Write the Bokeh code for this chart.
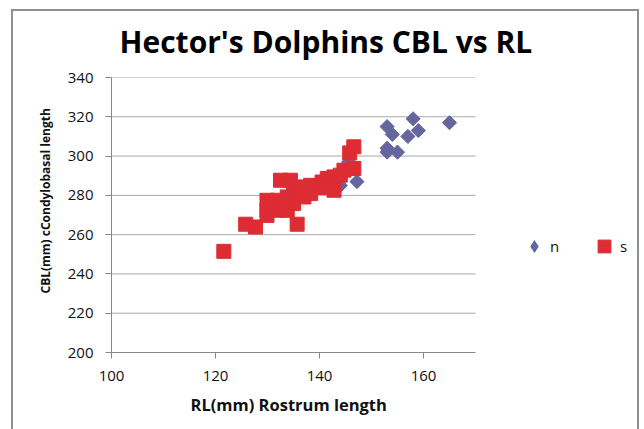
from bokeh.plotting import figure
from bokeh.models import Range1d, Legend, LegendItem, Title, FixedTicker, ColumnDataSource
from bokeh.embed import file_html
from bokeh.resources import INLINE
import numpy as np

# Hector's dolphin skull measurements (mm): rostrum length vs condylobasal length
n_rl = [158, 153, 154, 157, 159, 165, 153, 153, 155, 147.2, 145.6, 144]
n_cbl = [319, 315, 311, 310, 313, 317, 304, 302, 302, 287, 297, 285]

s_rl = [121.6, 125.8, 127.7, 135.7, 129.9, 129.9, 131.9, 133.8, 135.0, 129.9,
        131.9, 133.8, 137.0, 138.3, 135.0, 132.5, 134.4, 136.3, 138.3, 139.6,
        140.5, 141.5, 142.8, 142.8, 144.0, 144.7, 146.6, 145.8, 146.6, 131.0,
        133.0, 137.5, 141.0, 130.5]
s_cbl = [251.5, 265.3, 263.9, 265.3, 269.8, 272.4, 272.4, 272.4, 275.8, 277.5,
         277.5, 279.2, 279.2, 280.9, 282.6, 287.7, 287.7, 284.3, 285.1, 284.3,
         286.8, 288.6, 289.4, 282.6, 290.3, 292.8, 293.7, 301.6, 304.7, 275.0,
         276.0, 283.0, 284.0, 274.0]

x_ticks = [100, 120, 140, 160]
y_ticks = [200, 220, 240, 260, 280, 300, 320, 340]
x_min, x_max = 100, 170
y_min, y_max = 200, 340

BLUE = "#65669f"
RED = "#de2c34"
FONT = "Open Sans"
EDGE = "#8f8f8f"
TEXT = "#111111"

# the frame runs on to the right edge so the legend can sit beside the data area;
# axis line and grid stop at x_max
p = figure(width=644, height=429, output_backend="svg", toolbar_location=None,
           x_range=Range1d(x_min, 202.5), y_range=Range1d(y_min, y_max),
           min_border_left=111, min_border_right=0,
           min_border_top=77, min_border_bottom=77)
p.outline_line_color = None
p.background_fill_color = None
p.border_fill_color = None

# thin grey frame around the whole chart area, painted behind the canvas
line = f"linear-gradient({EDGE}, {EDGE})"
p.styles = {
    "background-color": "white",
    "background-image": f"{line}, {line}, {line}",
    "background-position": "11px 9px, 11px 9px, 637px 9px",
    "background-size": "2px 440px, 628px 2px, 2px 440px",
    "background-repeat": "no-repeat",
}

# title
p.title.text = "Hector's Dolphins CBL vs RL"
p.title.align = "left"
p.title.offset = 8
p.title.standoff = 32
p.title.text_font = FONT
p.title.text_font_style = "bold"
p.title.text_font_size = "30px"
p.title.text_color = "black"

# axes
p.xaxis.ticker = FixedTicker(ticks=x_ticks)
p.yaxis.ticker = FixedTicker(ticks=y_ticks)
p.xaxis.bounds = (x_min, x_max)
for ax in (p.xaxis, p.yaxis):
    ax.axis_line_color = "#878787"
    ax.major_tick_line_color = "#878787"
    ax.major_tick_out = 6
    ax.major_tick_in = 0
    ax.minor_tick_line_color = None
    ax.major_label_text_font = FONT
    ax.major_label_text_font_size = "15px"
    ax.major_label_text_color = TEXT
    ax.major_label_standoff = 12

# axis captions
p.add_layout(Title(text="RL(mm) Rostrum length", align="left", offset=79,
                   standoff=15, text_font=FONT, text_font_style="bold",
                   text_font_size="16.5px", text_color=TEXT), "below")
p.add_layout(Title(text="CBL(mm) cCondylobasal length", align="left",
                   offset=59, standoff=22, text_font=FONT,
                   text_font_style="bold", text_font_size="12px",
                   text_color=TEXT), "left")

# horizontal grid lines across the data area only
p.xgrid.grid_line_color = None
p.ygrid.grid_line_color = None
grid = ColumnDataSource(dict(y=y_ticks[1:], x0=[x_min] * (len(y_ticks) - 1),
                             x1=[x_max] * (len(y_ticks) - 1)))
p.segment(x0="x0", x1="x1", y0="y", y1="y", source=grid,
          line_color="#a8a8a8", line_width=1)

# series
r_n = p.scatter(n_rl, n_cbl, marker="square", angle=np.pi / 4, size=10,
                fill_color=BLUE, line_color=BLUE)
r_s = p.scatter(s_rl, s_cbl, marker="square", size=14,
                fill_color=RED, line_color=RED)
# zero-size diamond copy of the n series, used only for its legend swatch
r_n_key = p.scatter(n_rl, n_cbl, marker="diamond", size=0,
                    fill_color=BLUE, line_color=None)

legend = Legend(items=[LegendItem(label="n", renderers=[r_n_key]),
                       LegendItem(label="s", renderers=[r_s])],
                orientation="horizontal", location=(407, 90),
                border_line_color=None, background_fill_alpha=0,
                label_text_font=FONT, label_text_font_size="15px",
                label_text_color=TEXT,
                glyph_width=32, glyph_height=32, spacing=18,
                label_standoff=0, padding=10, margin=0)
p.add_layout(legend, "center")

open("out.html", "w").write(file_html(p, INLINE))
